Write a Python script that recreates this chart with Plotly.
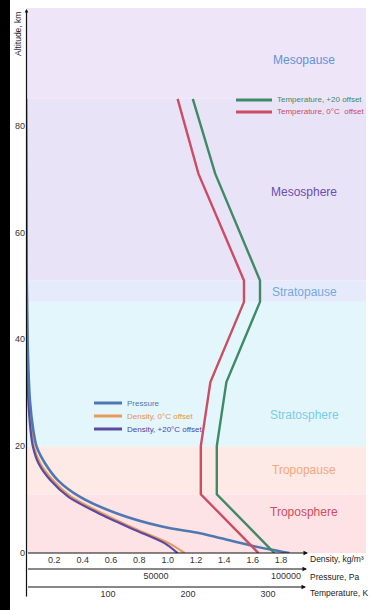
import plotly.graph_objects as go

# ---------------- data ----------------
alt_pressure = [0, 1.3, 2.8, 3.7, 4.9, 7.4, 10.5, 13.6, 16.8, 19.9, 23, 28.6, 40, 60, 85]
pressure_pa = [101300, 87300, 74600, 66900, 52700, 35000, 20800, 12300, 7300, 4100, 2800, 1500, 600, 150, 0]

alt_density = [0, 1.8, 4.3, 7.4, 10.5, 13.6, 16.8, 19.9, 23, 30, 40, 60, 85]
density_0c = [1.12, 1.01, 0.79, 0.54, 0.32, 0.19, 0.10, 0.056, 0.039, 0.018, 0.010, 0.003, 0.0]
density_20c = [1.07, 0.98, 0.77, 0.515, 0.30, 0.173, 0.088, 0.049, 0.032, 0.014, 0.007, 0.002, 0.0]

alt_temp = [0, 11, 20, 32, 47, 51, 71, 85]
temp_0c = [288, 216, 216, 228, 270, 270, 213, 187]
temp_20 = [308, 236, 236, 248, 290, 290, 234, 206]

layers = ["Troposphere", "Tropopause", "Stratosphere", "Stratopause", "Mesosphere", "Mesopause"]
layer_bottom = [0, 11, 20, 47, 51, 85]
layer_top = [11, 20, 47, 51, 85, 102]
layer_label_alt = [7.7, 15.5, 25.8, 48.8, 67.6, 92.3]
layer_fill = ["#fde3e6", "#fde9e5", "#e3f6fc", "#e5ebfa", "#e9e3f8", "#efe5f8"]
layer_text = ["#d24a5c", "#f2a77c", "#7ccbe8", "#76a9de", "#6a4db2", "#5f93d6"]

density_ticks = [0.2, 0.4, 0.6, 0.8, 1.0, 1.2, 1.4, 1.6, 1.8]
pressure_ticks = [50000, 100000]
temp_ticks = [100, 200, 300]
alt_ticks = [0, 20, 40, 60, 80]

# ---------------- geometry helpers ----------------
W, H = 372, 610
ML, MR, MT, MB = 26, 6, 8, 10
PW, PH = W - ML - MR, H - MT - MB


def px(x):
    return (x - ML) / PW


def py(y):
    return (H - MB - y) / PH


FONT = "Liberation Sans, Arial, sans-serif"

C_P, C_D0, C_D20, C_T20, C_T0 = "#4f78b0", "#e89a5c", "#5a4aa0", "#3f8a64", "#cc4d62"

fig = go.Figure()
fig.add_trace(go.Scatter(x=pressure_pa, y=alt_pressure, xaxis="x2", yaxis="y", mode="lines",
                         line=dict(color=C_P, width=2.6, shape="spline", smoothing=0.8), name="Pressure"))
fig.add_trace(go.Scatter(x=density_0c, y=alt_density, xaxis="x", yaxis="y", mode="lines",
                         line=dict(color=C_D0, width=2.2, shape="spline", smoothing=0.8), name="Density, 0°C offset"))
fig.add_trace(go.Scatter(x=density_20c, y=alt_density, xaxis="x", yaxis="y", mode="lines",
                         line=dict(color=C_D20, width=2.2, shape="spline", smoothing=0.8), name="Density, +20°C offset"))
fig.add_trace(go.Scatter(x=temp_20, y=alt_temp, xaxis="x3", yaxis="y", mode="lines",
                         line=dict(color=C_T20, width=2.4), name="Temperature, +20 offset"))
fig.add_trace(go.Scatter(x=temp_0c, y=alt_temp, xaxis="x3", yaxis="y", mode="lines",
                         line=dict(color=C_T0, width=2.4), name="Temperature, 0°C  offset"))

shapes = []
for b, t, c in zip(layer_bottom, layer_top, layer_fill):
    shapes.append(dict(type="rect", xref="paper", yref="y", x0=0, x1=1, y0=b, y1=t,
                       fillcolor=c, line=dict(width=0), layer="below"))
# black strip on the left edge of the picture
shapes.append(dict(type="rect", xref="paper", yref="paper", x0=px(-2), x1=px(10), y0=py(H + 2), y1=py(-2),
                   fillcolor="black", line=dict(width=0), layer="above"))

annotations = []
for name, a, c in zip(layers, layer_label_alt, layer_text):
    annotations.append(dict(text=name, xref="paper", yref="y", x=px(304), y=a, showarrow=False,
                            xanchor="center", yanchor="middle",
                            font=dict(family=FONT, size=12, color=c)))

# manual legends (line samples + coloured text)
legend_items = [
    ("Pressure", C_P, "#4f78b0", 94, 122, 403),
    ("Density, 0°C offset", C_D0, "#e8904c", 94, 122, 416),
    ("Density, +20°C offset", C_D20, "#4f45a0", 94, 122, 429),
    ("Temperature, +20 offset", C_T20, "#3f8a64", 236, 272, 100),
    ("Temperature, 0°C  offset", C_T0, "#c84a66", 236, 272, 112),
]
for txt, lc, tc, x0, x1, yy in legend_items:
    shapes.append(dict(type="line", xref="paper", yref="paper", x0=px(x0), x1=px(x1), y0=py(yy), y1=py(yy),
                       line=dict(color=lc, width=3), layer="above"))
    annotations.append(dict(text=txt, xref="paper", yref="paper", x=px(x1 + 3), y=py(yy),
                            xanchor="left", yanchor="middle", showarrow=False,
                            font=dict(family=FONT, size=8, color=tc)))

# axis arrows
for yy, x_end in [(553, 308), (569, 307), (587, 306)]:
    annotations.append(dict(text="", xref="paper", yref="paper", x=px(x_end), y=py(yy),
                            ax=-(x_end - 26.5), ay=0, showarrow=True, arrowhead=2, arrowsize=0.9,
                            arrowwidth=1, arrowcolor="#111"))
annotations.append(dict(text="", xref="paper", yref="paper", x=px(26.5), y=py(9), ax=0, ay=589,
                        showarrow=True, arrowhead=2, arrowsize=0.6, arrowwidth=1.2, arrowcolor="#111"))

for txt, yy in [("Density, kg/m³", 559), ("Pressure, Pa", 577), ("Temperature, K", 593)]:
    annotations.append(dict(text=txt, xref="paper", yref="paper", x=px(308), y=py(yy),
                            xanchor="left", yanchor="middle", showarrow=False,
                            font=dict(family=FONT, size=8.5, color="#222")))
annotations.append(dict(text="Altitude, km", xref="paper", yref="paper", x=px(18), y=py(34),
                        xanchor="center", yanchor="middle",
                        textangle=-90, showarrow=False, font=dict(family=FONT, size=8.5, color="#222")))

tickfont = dict(family=FONT, size=9, color="#333")
common_x = dict(showgrid=False, zeroline=False, showline=False, ticks="", tickfont=tickfont,
                fixedrange=True, automargin=False)

ydom0 = py(553)
fig.update_layout(
    width=W, height=H,
    margin=dict(l=ML, r=MR, t=MT, b=MB, pad=0, autoexpand=False),
    paper_bgcolor="white", plot_bgcolor="white",
    shapes=shapes, annotations=annotations,
    xaxis=dict(range=[0, 2.4], tickvals=density_ticks, ticktext=[f"{v:.1f}" for v in density_ticks],
               anchor="y", side="bottom", **common_x),
    xaxis2=dict(range=[0, PW / 0.0026], tickvals=pressure_ticks, ticktext=[str(v) for v in pressure_ticks],
                overlaying="x", anchor="free", position=py(569), side="bottom", **common_x),
    xaxis3=dict(range=[-2.5, PW / 0.8 - 2.5], tickvals=temp_ticks, ticktext=[str(v) for v in temp_ticks],
                overlaying="x", anchor="free", position=py(587), side="bottom", **common_x),
    yaxis=dict(range=[0, 102], domain=[ydom0, 1], tickvals=alt_ticks, showgrid=False, zeroline=False,
               showline=False, ticks="", tickfont=tickfont, fixedrange=True, automargin=False),
    showlegend=False,
)

fig.write_html("out.html", config={"displayModeBar": False},
               post_script="document.body.style.margin='0';document.body.style.overflow='hidden';")
